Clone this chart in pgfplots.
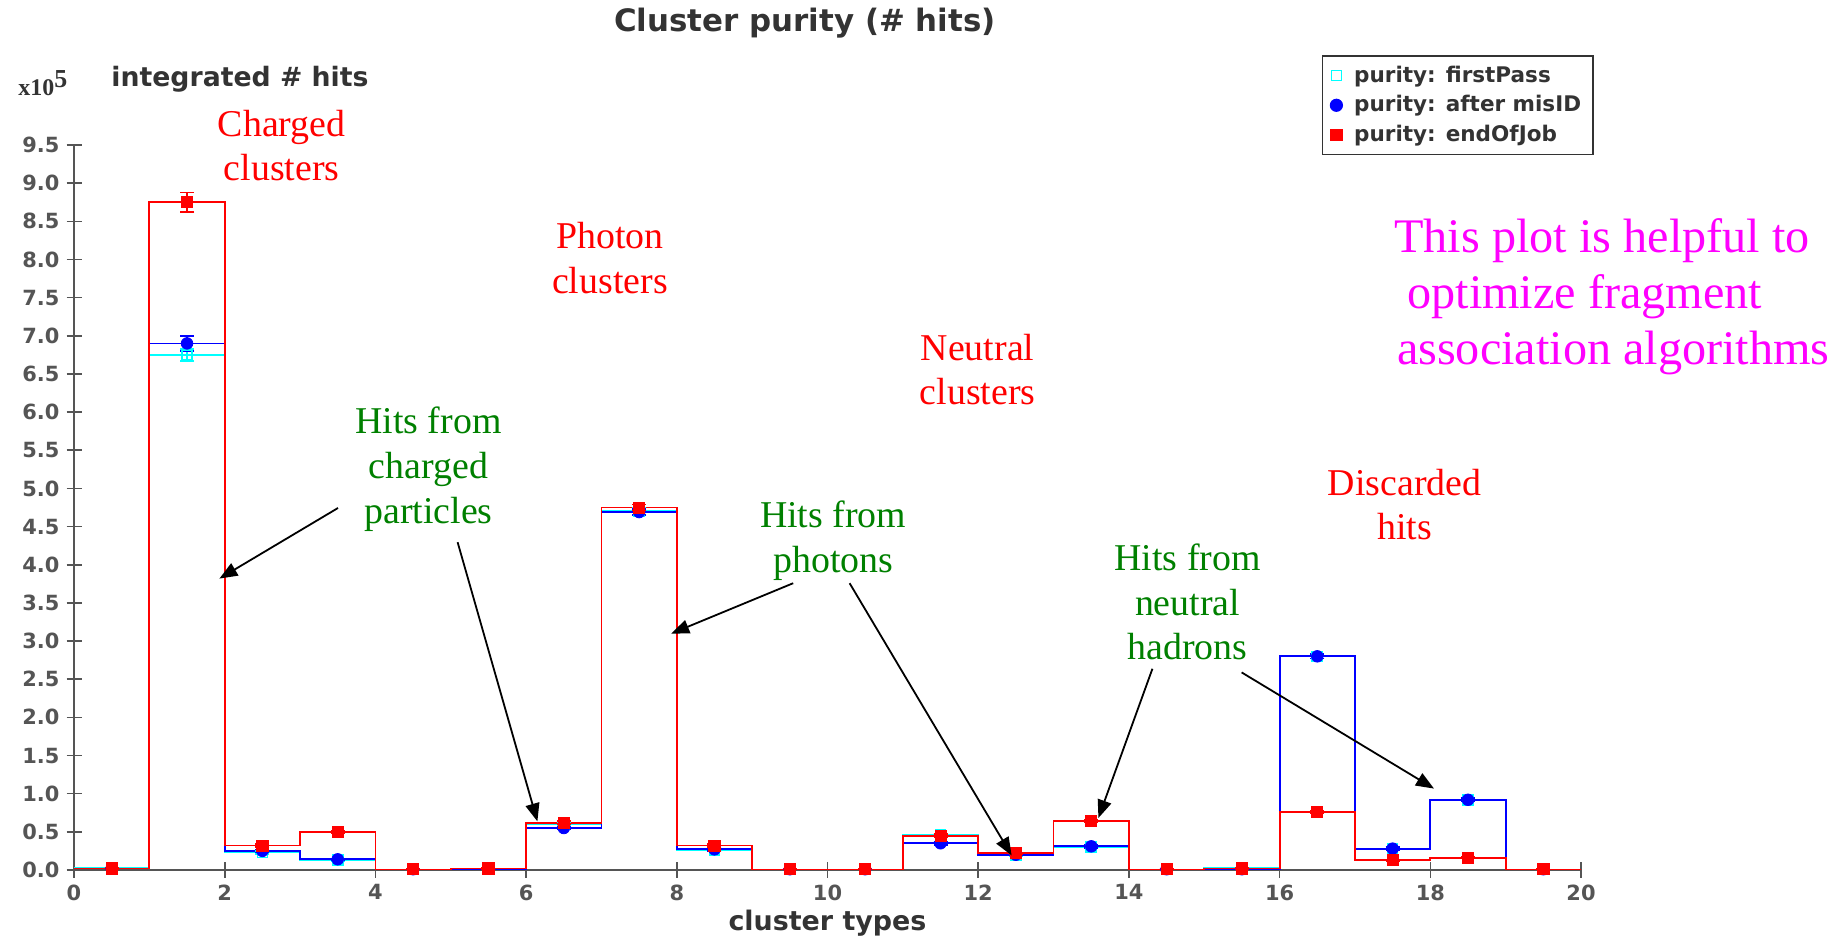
\documentclass[border=0pt]{standalone}
\usepackage{pgfplots}
\usepackage{pgfplotstable}
\pgfplotsset{compat=1.18}
\usepackage{fontspec}
\setmainfont{DejaVu Sans}
\newfontfamily\notefont{Liberation Serif}
\usetikzlibrary{arrows.meta}

\definecolor{txtgray}{HTML}{333333}
\definecolor{axgray}{HTML}{555555}
\definecolor{hcyan}{HTML}{00FFFF}
\definecolor{hblue}{HTML}{0000FF}
\definecolor{hred}{HTML}{FF0000}
\definecolor{notegreen}{HTML}{008000}
\definecolor{notemag}{HTML}{FF00FF}

% bin contents (units of 1e5 hits), left bin edges; last row closes the step at x=20
\pgfplotstableread{
x  fp    mis   eoj
0  0.03  0.02  0.02
1  6.75  6.90  8.75
2  0.23  0.25  0.32
3  0.13  0.14  0.50
4  0.00  0.00  0.00
5  0.01  0.01  0.02
6  0.60  0.55  0.62
7  4.70  4.69  4.75
8  0.26  0.27  0.32
9  0.00  0.00  0.00
10 0.00  0.00  0.00
11 0.46  0.35  0.45
12 0.19  0.20  0.22
13 0.30  0.31  0.64
14 0.00  0.00  0.00
15 0.03  0.01  0.02
16 2.80  2.80  0.76
17 0.28  0.28  0.13
18 0.92  0.92  0.16
19 0.00  0.00  0.00
20 0.00  0.00  0.00
}\histdata

% bin centres with statistical errors
\pgfplotstableread{
x     fp    fpe   mis   mise  eoj   eoje
0.5   0.03  0.005 0.02  0.005 0.02  0.005
1.5   6.75  0.08  6.90  0.10  8.75  0.13
2.5   0.23  0.02  0.25  0.02  0.32  0.02
3.5   0.13  0.01  0.14  0.01  0.50  0.02
4.5   0.01  0.003 0.01  0.003 0.01  0.003
5.5   0.02  0.003 0.02  0.003 0.02  0.003
6.5   0.60  0.02  0.55  0.02  0.62  0.02
7.5   4.70  0.04  4.69  0.04  4.75  0.04
8.5   0.26  0.02  0.27  0.02  0.32  0.02
9.5   0.01  0.003 0.01  0.003 0.01  0.003
10.5  0.01  0.003 0.01  0.003 0.01  0.003
11.5  0.46  0.02  0.35  0.02  0.45  0.02
12.5  0.19  0.01  0.20  0.01  0.22  0.01
13.5  0.30  0.02  0.31  0.02  0.64  0.02
14.5  0.01  0.003 0.01  0.003 0.01  0.003
15.5  0.03  0.005 0.01  0.003 0.02  0.003
16.5  2.80  0.03  2.80  0.03  0.76  0.02
17.5  0.28  0.02  0.28  0.02  0.13  0.01
18.5  0.92  0.02  0.92  0.02  0.16  0.01
19.5  0.01  0.003 0.01  0.003 0.01  0.003
}\markdata

\begin{document}
\begin{tikzpicture}
\path[use as bounding box] (0,0) rectangle (920bp,470bp);
\begin{axis}[
  at={(37bp,35bp)}, anchor=south west,
  scale only axis, width=753.5bp, height=362.5bp,
  xmin=0, xmax=20, ymin=0, ymax=9.5,
  axis lines=left,
  axis line style={-, draw=axgray, line width=0.9bp},
  xtick={0,2,...,20},
  ytick={0,0.5,...,9.5},
  tick align=center,
  major tick length=7.5bp,
  tick style={draw=axgray, line width=0.8bp},
  /pgf/number format/assume math mode=true,
  yticklabel style={/pgf/number format/.cd, fixed, fixed zerofill, precision=1},
  ticklabel style={font=\bfseries\fontsize{10.5}{12}\selectfont, text=axgray},
  legend style={at={(0.828,1.124)}, anchor=north west,
    draw=txtgray, line width=0.8bp, fill=white,
    font=\bfseries\fontsize{10.8}{12}\selectfont, text=txtgray,
    row sep=1.2bp, inner xsep=4bp, inner ysep=3bp,
    cells={anchor=west},
    /tikz/every odd column/.append style={column sep=4bp}},
  legend cell align=left,
]
% histogram outlines
\addplot[const plot, draw=hcyan, line width=0.9bp, forget plot] table[x=x, y=fp] {\histdata};
\addplot[const plot, draw=hblue, line width=0.9bp, forget plot] table[x=x, y=mis] {\histdata};
\addplot[const plot, draw=hred, line width=0.9bp, forget plot] table[x=x, y=eoj] {\histdata};
% bin markers with error bars
\addplot[only marks, mark=square, mark size=2.5bp, draw=hcyan,
  mark options={draw=hcyan, line width=0.8bp},
  error bars/.cd, y dir=both, y explicit,
  error bar style={draw=hcyan, line width=0.8bp},
  error mark options={rotate=90, draw=hcyan, mark size=3.5bp, line width=0.8bp}]
  table[x=x, y=fp, y error=fpe] {\markdata};
\addlegendentry{purity: firstPass}
\addplot[only marks, mark=*, mark size=2.9bp, draw=hblue, fill=hblue,
  mark options={draw=hblue, fill=hblue},
  error bars/.cd, y dir=both, y explicit,
  error bar style={draw=hblue, line width=0.8bp},
  error mark options={rotate=90, draw=hblue, mark size=3.5bp, line width=0.8bp}]
  table[x=x, y=mis, y error=mise] {\markdata};
\addlegendentry{purity: after misID}
\addplot[only marks, mark=square*, mark size=2.8bp, draw=hred, fill=hred,
  mark options={draw=hred, fill=hred},
  error bars/.cd, y dir=both, y explicit,
  error bar style={draw=hred, line width=0.8bp},
  error mark options={rotate=90, draw=hred, mark size=3.5bp, line width=0.8bp}]
  table[x=x, y=eoj, y error=eoje] {\markdata};
\addlegendentry{purity: endOfJob}
\end{axis}

% titles
\node[font=\bfseries\fontsize{15.5}{17}\selectfont, text=txtgray] at (402.5bp,458.5bp) {Cluster purity (\# hits)};
\node[font=\bfseries\fontsize{13.5}{15}\selectfont, text=txtgray] at (413.75bp,8.5bp) {cluster types};
\node[font=\bfseries\fontsize{13.4}{15}\selectfont, text=txtgray] at (120bp,430.5bp) {integrated \# hits};
\node[font=\notefont\bfseries\fontsize{12}{14}\selectfont, text=txtgray] at (21.7bp,428.5bp) {x10\textsuperscript{\fontsize{13}{14}\selectfont 5}};

% category notes
\begin{scope}[every node/.style={align=center, font=\notefont\fontsize{19}{22.5}\selectfont}]
\node[text=hred] at (140.8bp,397.2bp) {Charged\\clusters};
\node[text=hred] at (305bp,341bp) {Photon\\clusters};
\node[text=hred] at (488.8bp,285.2bp) {Neutral\\clusters};
\node[text=hred] at (702.3bp,217.7bp) {Discarded\\hits};
\node[text=notegreen] at (214.2bp,235.3bp) {Hits from\\charged\\particles};
\node[text=notegreen] at (416.6bp,199.5bp) {Hits from\\photons};
\node[text=notegreen] at (593.8bp,169bp) {Hits from\\neutral\\hadrons};
\end{scope}

\begin{scope}[every node/.style={anchor=base west, inner sep=0pt, text=notemag, font=\notefont\fontsize{24.2}{28}\selectfont}]
\node at (697bp,343.8bp) {This plot is helpful to};
\node at (703.5bp,315.7bp) {optimize fragment};
\node at (698.3bp,287.5bp) {association algorithms};
\end{scope}

% arrows pointing to the hit populations
\begin{scope}[line width=0.9bp, -{Triangle[length=9bp,width=7bp]}]
\draw (169bp,216bp) -- (109.7bp,180.7bp);
\draw (228.8bp,198.9bp) -- (268.7bp,59.3bp);
\draw (396.6bp,178.4bp) -- (335.6bp,153.2bp);
\draw (424.8bp,178.4bp) -- (505.8bp,42.3bp);
\draw (576.2bp,135.6bp) -- (549.2bp,61bp);
\draw (620.8bp,133.8bp) -- (717bp,75.7bp);
\end{scope}
\end{tikzpicture}
\end{document}
